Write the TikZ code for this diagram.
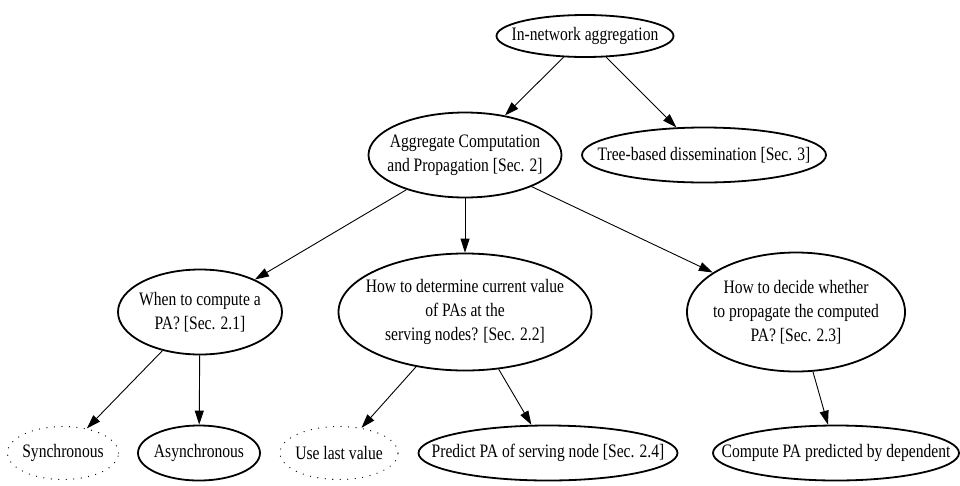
\documentclass[tikz,border=0pt]{standalone}
\usepackage{fontspec}
\setmainfont{Liberation Serif}
\usetikzlibrary{arrows.meta,shapes.geometric}

\tikzset{
  box/.style={ellipse,draw,line width=1.8pt,inner sep=0pt},
  dotbox/.style={ellipse,draw,line width=1.3pt,line cap=round,dash pattern=on 0pt off 7.5pt,inner sep=0pt},
  txt/.style={align=center,inner sep=0pt,transform shape,xscale=0.82},
  edge/.style={-{Triangle[length=14pt,width=9pt]},line width=0.9pt},
}

\begin{document}
\begin{tikzpicture}[x=1pt,y=-1pt,font=\fontsize{19}{24}\selectfont]
\useasboundingbox (0,0) rectangle (960,485);
% top levels
\node[box,minimum width=177pt,minimum height=42pt,label={[txt]center:In-network aggregation}] (root) at (585,36) {};
\node[box,minimum width=193pt,minimum height=85pt,label={[txt]center:Aggregate Computation\\and Propagation [Sec. 2]}] (agg) at (465,155) {};
\node[box,minimum width=244pt,minimum height=55pt,label={[txt]center:Tree-based dissemination [Sec. 3]}] (tree) at (704,155) {};
% questions
\node[box,minimum width=164pt,minimum height=85pt,label={[txt]center:When to compute a\\PA? [Sec. 2.1]}] (when) at (200,312) {};
\node[box,minimum width=253pt,minimum height=117pt,label={[txt]center:How to determine current value\\of PAs at the\\serving nodes? [Sec. 2.2]}] (how) at (465,312) {};
\node[box,minimum width=218pt,minimum height=119pt,label={[txt]center:How to decide whether\\to propagate the computed\\PA? [Sec. 2.3]}] (decide) at (796,312) {};
% leaves
\node[dotbox,minimum width=111pt,minimum height=53pt,label={[txt]center:Synchronous}] (sync) at (63,453) {};
\node[box,minimum width=122pt,minimum height=55pt,label={[txt]center:Asynchronous}] (async) at (199,453) {};
\node[dotbox,minimum width=118pt,minimum height=53pt,label={[txt]center:Use last value}] (last) at (339,453) {};
\node[box,minimum width=259pt,minimum height=55pt,label={[txt]center:Predict PA of serving node [Sec. 2.4]}] (pred) at (548,453) {};
\node[box,minimum width=246pt,minimum height=55pt,label={[txt]center:Compute PA predicted by dependent}] (comp) at (836,453) {};

\draw[edge] (root) -- (agg);
\draw[edge] (root) -- (tree);
\draw[edge] (agg) -- (when);
\draw[edge] (agg) -- (how);
\draw[edge] (agg) -- (decide);
\draw[edge] (when) -- (sync);
\draw[edge] (when) -- (async);
\draw[edge] (how) -- (last);
\draw[edge] (how) -- (pred);
\draw[edge] (decide) -- (comp);
\end{tikzpicture}
\end{document}
